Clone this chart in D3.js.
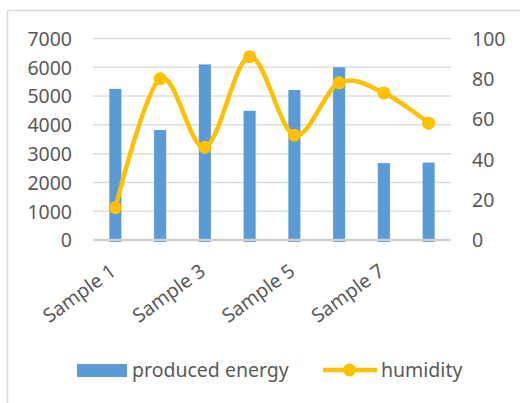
<!DOCTYPE html>
<html>
<head>
<meta charset="utf-8">
<script src="https://cdn.jsdelivr.net/npm/d3@7/dist/d3.min.js"></script>
<style>
  html, body { margin: 0; padding: 0; background: #ffffff; }
  svg { display: block; }
  text { font-family: "Noto Sans", "Open Sans", sans-serif; fill: #595959; }
</style>
</head>
<body>
<svg id="chart" width="520" height="403"></svg>
<script>
// Samples and measured series
const categories = ["Sample 1", "Sample 2", "Sample 3", "Sample 4", "Sample 5", "Sample 6", "Sample 7", "Sample 8"];
const producedEnergy = [5250, 3820, 6100, 4490, 5210, 6000, 2670, 2690];
const humidity = [16, 80, 46, 91, 52, 78, 73, 58];
const energyTicks = [0, 1000, 2000, 3000, 4000, 5000, 6000, 7000];
const humidityTicks = [0, 20, 40, 60, 80, 100];
const shownCategoryLabels = ["Sample 1", "Sample 3", "Sample 5", "Sample 7"];

const svg = d3.select("#chart");
const plot = { left: 93, right: 451, top: 38.5, bottom: 240 };

// Chart frame (top and left edges)
svg.append("path")
  .attr("d", "M7.5,404 V10.5 H521")
  .attr("fill", "none")
  .attr("stroke", "#d9d9d9")
  .attr("stroke-width", 1.5);

const x = d3.scaleBand()
  .domain(categories)
  .range([plot.left, plot.right])
  .paddingInner(0.73)
  .paddingOuter(0.365);

const yLeft = d3.scaleLinear().domain([0, 7000]).range([plot.bottom, plot.top]);
const yRight = d3.scaleLinear().domain([0, 100]).range([plot.bottom, plot.top]);

// Horizontal gridlines
svg.append("g")
  .selectAll("line")
  .data(energyTicks.filter(d => d > 0))
  .join("line")
  .attr("x1", plot.left).attr("x2", plot.right)
  .attr("y1", d => yLeft(d)).attr("y2", d => yLeft(d))
  .attr("stroke", "#dedede")
  .attr("stroke-width", 1.5);

// Left axis labels
const leftAxis = d3.axisLeft(yLeft).tickValues(energyTicks).tickFormat(d3.format("d")).tickSize(0).tickPadding(0);
const gLeft = svg.append("g")
  .attr("transform", "translate(72,0)")
  .call(leftAxis);
gLeft.select(".domain").remove();
gLeft.selectAll("text")
  .attr("font-size", "19.5px")
  .attr("font-family", "Noto Sans, Open Sans, sans-serif")
  .attr("fill", "#595959")
  .attr("dy", "0.35em");

// Right axis labels
const rightAxis = d3.axisRight(yRight).tickValues(humidityTicks).tickFormat(d3.format("d")).tickSize(0).tickPadding(0);
const gRight = svg.append("g")
  .attr("transform", "translate(472,0)")
  .call(rightAxis);
gRight.select(".domain").remove();
gRight.selectAll("text")
  .attr("font-size", "19.5px")
  .attr("font-family", "Noto Sans, Open Sans, sans-serif")
  .attr("fill", "#595959")
  .attr("dy", "0.35em");

// Produced energy bars
svg.append("g")
  .selectAll("rect")
  .data(categories.map((c, i) => ({ c, v: producedEnergy[i] })))
  .join("rect")
  .attr("x", d => x(d.c))
  .attr("width", x.bandwidth())
  .attr("y", d => yLeft(d.v))
  .attr("height", d => yLeft(0) - yLeft(d.v) + 2)
  .attr("fill", "#5b9bd5");

// Baseline
svg.append("line")
  .attr("x1", plot.left).attr("x2", plot.right)
  .attr("y1", plot.bottom).attr("y2", plot.bottom)
  .attr("stroke", "#d0d0d0")
  .attr("stroke-width", 2.5);

// Category labels (every other one), rotated
const gBottom = svg.append("g")
  .attr("transform", `translate(0,${plot.bottom})`)
  .call(d3.axisBottom(x).tickValues(shownCategoryLabels).tickSize(0).tickPadding(0));
gBottom.select(".domain").remove();
gBottom.selectAll("text")
  .attr("font-size", "19.5px")
  .attr("font-family", "Noto Sans, Open Sans, sans-serif")
  .attr("fill", "#595959")
  .attr("text-anchor", "end")
  .attr("dy", "0")
  .attr("y", 0)
  .attr("transform", "translate(2,34) rotate(-36)");

// Humidity line
const pts = categories.map((c, i) => [x(c) + x.bandwidth() / 2, yRight(humidity[i])]);
svg.append("path")
  .attr("d", d3.line().curve(d3.curveCardinal.tension(0))(pts))
  .attr("fill", "none")
  .attr("stroke", "#ffc000")
  .attr("stroke-width", 4.5)
  .attr("stroke-linejoin", "round");

svg.append("g")
  .selectAll("circle")
  .data(pts)
  .join("circle")
  .attr("cx", d => d[0])
  .attr("cy", d => d[1])
  .attr("r", 6.5)
  .attr("fill", "#ffc000");

// Legend
const legend = svg.append("g");
legend.append("rect")
  .attr("x", 77).attr("y", 364)
  .attr("width", 50).attr("height", 13)
  .attr("fill", "#5b9bd5");
legend.append("text")
  .attr("x", 132).attr("y", 377)
  .attr("font-size", "19.5px")
  .text("produced energy");
legend.append("line")
  .attr("x1", 323).attr("x2", 377)
  .attr("y1", 370).attr("y2", 370)
  .attr("stroke", "#ffc000")
  .attr("stroke-width", 4.5);
legend.append("circle")
  .attr("cx", 349.5).attr("cy", 370)
  .attr("r", 6.5)
  .attr("fill", "#ffc000");
legend.append("text")
  .attr("x", 381).attr("y", 377)
  .attr("font-size", "19.5px")
  .text("humidity");
</script>
</body>
</html>
